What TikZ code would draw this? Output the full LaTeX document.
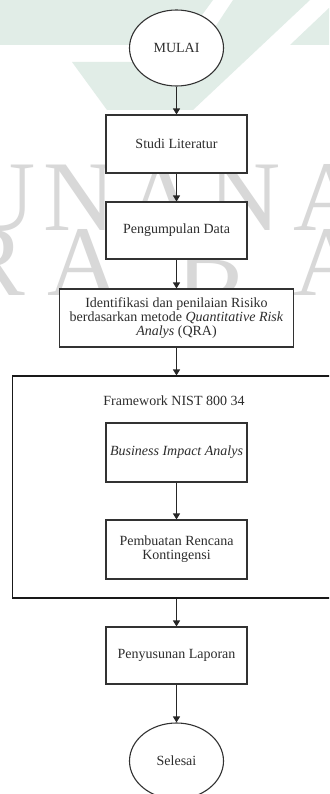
\documentclass[tikz,border=0pt]{standalone}
\usepackage{fontspec}
\setmainfont{Liberation Serif}
\usetikzlibrary{shapes.geometric,arrows.meta}
\definecolor{wmgreen}{RGB}{225,237,231}
\definecolor{wmgray}{RGB}{216,216,216}
\definecolor{edgec}{RGB}{50,50,50}
\definecolor{txt}{RGB}{45,45,45}
\begin{document}
\begin{tikzpicture}[x=1pt,y=-1pt,
  font=\fontsize{14}{14}\selectfont,
  box/.style={draw=edgec, line width=1.1pt, fill=white, rectangle, minimum width=141pt, minimum height=58pt, inner sep=0pt, text=txt, align=center},
  term/.style={draw=edgec, line width=1.1pt, fill=white, ellipse, minimum width=94pt, minimum height=76pt, inner sep=0pt, text=txt},
  arr/.style={draw=black!85, line width=1.2pt, -{Triangle[width=7pt,length=6pt]}},
  wm/.style={text=wmgray, font=\fontsize{100}{100}\selectfont, anchor=base, inner sep=0pt}]
\useasboundingbox (0,0) rectangle (329,794);
\clip (0,0) rectangle (329,794);
\fill[white] (0,0) rectangle (329,794);
% watermark
\fill[wmgreen] (0,0) -- (213,0) -- (180,45) -- (0,45) -- cycle;
\fill[wmgreen] (233,0) -- (310,0) -- (193,110) -- (107,110) -- (72,62) -- (192,62) -- cycle;
\fill[wmgreen] (329,8) -- (329,45) -- (290,45) -- cycle;
\node[wm] (w1) at (0,230) {U};
\node[wm] (w2) at (80,230) {N};
\node[wm] (w3) at (162,230) {A};
\node[wm] (w4) at (245,230) {N};
\node[wm] (w5) at (330,230) {A};
\node[wm] (w6) at (-8,295) {R};
\node[wm] (w7) at (84,295) {A};
\node[wm] (w8) at (210,295) {B};
\node[wm] (w9) at (330,295) {A};
% diagram
\node[term] (mulai) at (176.5,48) {MULAI};
\node[box] (studi) at (176.5,144) {Studi Literatur};
\node[box, minimum height=57pt] (data) at (176.5,230.5) {Pengumpulan Data};
\node[box, minimum width=234pt] (qra) at (176.5,318) {Identifikasi dan penilaian Risiko\\berdasarkan metode \textit{Quantitative Risk}\\\textit{Analys} (QRA)};
\node[draw=black!90, line width=1.1pt, fill=white, rectangle, minimum width=320pt, minimum height=222pt, inner sep=0pt] (frame) at (172.5,487) {};
\node[text=txt] (ftitle) at (174,401) {Framework NIST 800 34};
\node[box, minimum height=59pt] (bia) at (176.5,452.5) {\textit{Business Impact Analys}};
\node[box, minimum height=59pt] (kont) at (176.5,549.5) {Pembuatan Rencana\\Kontingensi};
\node[box, minimum height=57pt] (lap) at (176.5,655.5) {Penyusunan Laporan};
\node[term] (selesai) at (176.5,761) {Selesai};
% connectors
\draw[arr] (mulai) -- (studi);
\draw[arr] (studi) -- (data);
\draw[arr] (data) -- (qra);
\draw[arr] (qra.south) -- (qra.south |- frame.north);
\draw[arr] (bia) -- (kont);
\draw[arr] (lap.north |- frame.south) -- (lap.north);
\draw[arr] (lap) -- (selesai);
\end{tikzpicture}
\end{document}
